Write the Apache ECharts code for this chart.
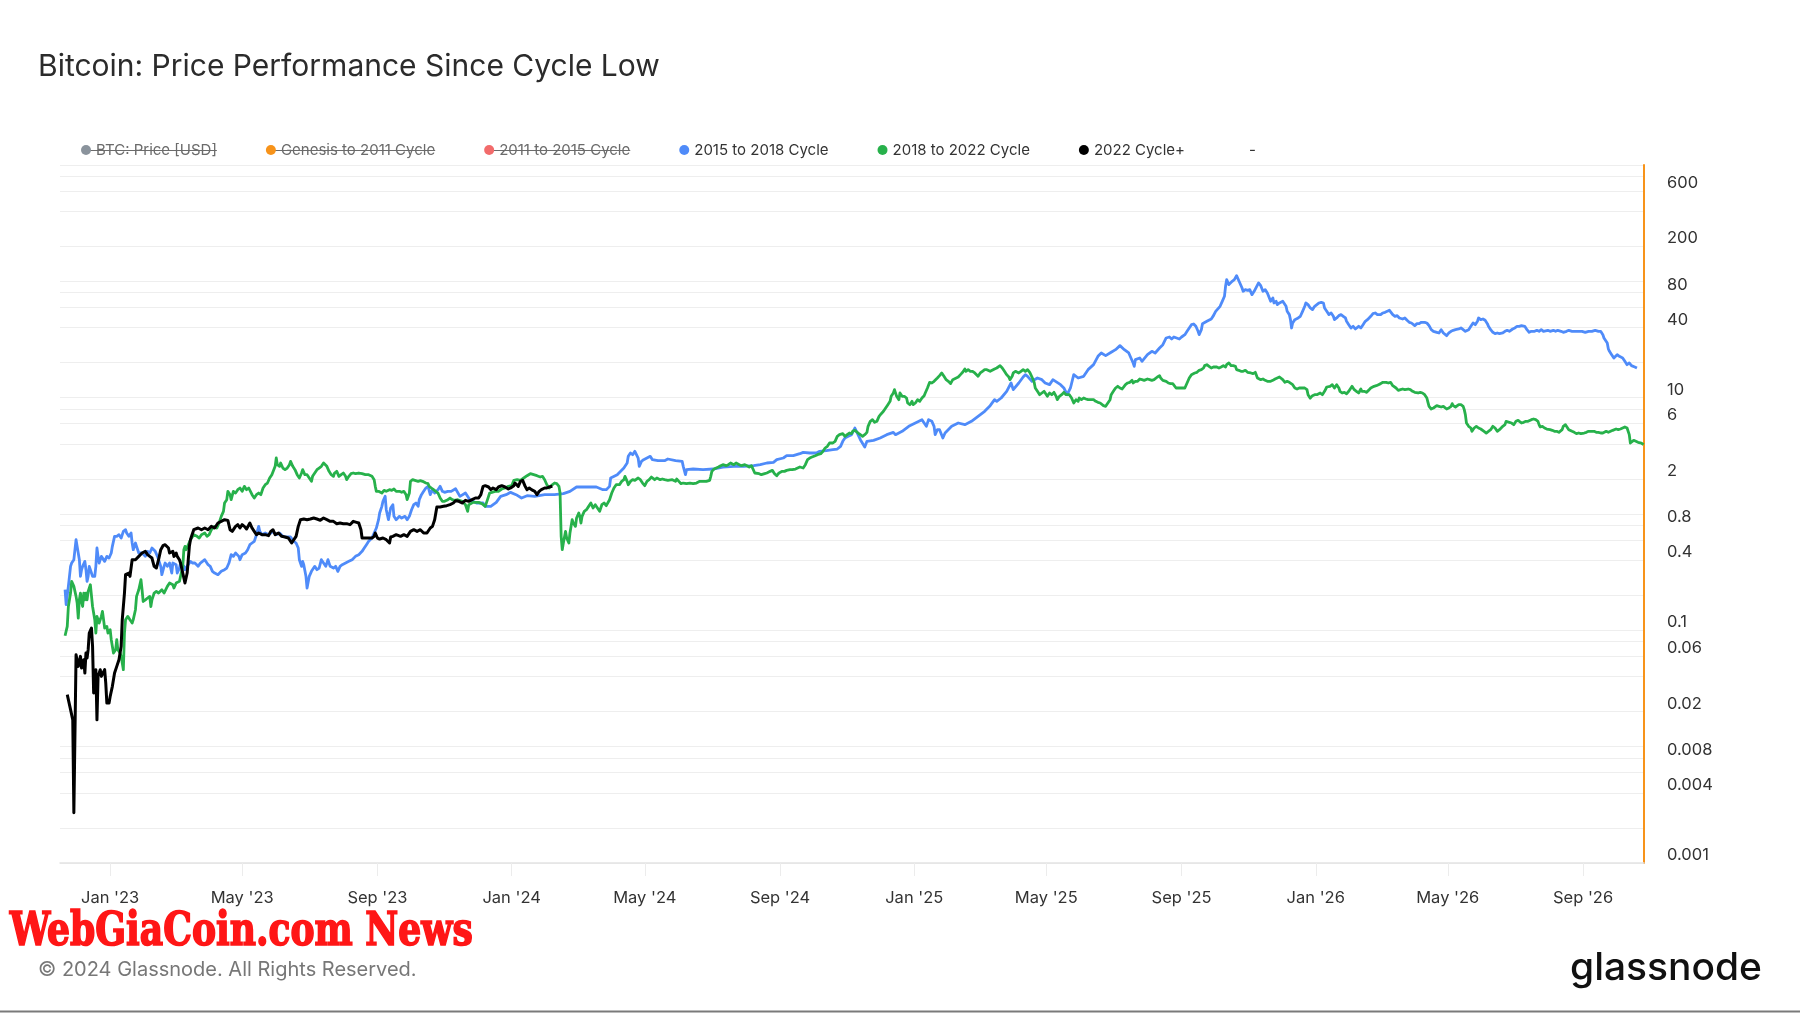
<!DOCTYPE html>
<html><head><meta charset="utf-8">
<script src="https://cdn.jsdelivr.net/npm/echarts@6/dist/echarts.min.js"></script>
<style>html,body{margin:0;padding:0;background:#fff}#c{width:1800px;height:1013px}</style>
</head><body><div id="c"></div>
<script>
// ---- data: [days since cycle low, price performance] ----
const cycleLow = '2022-11-21';
const legendNames = ['BTC: Price [USD]', 'Genesis to 2011 Cycle', '2011 to 2015 Cycle', '2015 to 2018 Cycle', '2018 to 2022 Cycle', '2022 Cycle+', '-'];
const xTickDates = ['2023-01-01','2023-05-01','2023-09-01','2024-01-01','2024-05-01','2024-09-01','2025-01-01','2025-05-01','2025-09-01','2026-01-01','2026-05-01','2026-09-01'];
const xTickLabels = ["Jan '23","May '23","Sep '23","Jan '24","May '24","Sep '24","Jan '25","May '25","Sep '25","Jan '26","May '26","Sep '26"];
const yLabelValues = [0.001,0.004,0.008,0.02,0.06,0.1,0.4,0.8,2,6,10,40,80,200,600];
const yGridValues = [0.001,0.002,0.004,0.006,0.008,0.01,0.02,0.04,0.06,0.08,0.1,0.2,0.4,0.6,0.8,1,2,4,6,8,10,20,40,60,80,100,200,400,600,800,1000];

const cycle2022 = [[2,0.028],[5,0.0208],[7,0.017],[8,0.0027],[10,0.0617],[12,0.049],[14,0.0597],[15,0.0474],[17,0.0559],[18,0.0429],[19,0.0638],[20,0.0578],[21,0.0682],[22,0.0948],[24,0.1046],[25,0.0728],[26,0.0289],[27,0.0402],[28,0.0459],[29,0.017],[30,0.0402],[32,0.0459],[33,0.0402],[36,0.0459],[37,0.0352],[38,0.0237],[40,0.0237],[41,0.027],[43,0.033],[45,0.0429],[47,0.049],[49,0.0559],[51,0.0728],[52,0.1235],[54,0.2092],[55,0.3008],[58,0.3109],[59,0.2911],[61,0.4047],[64,0.4047],[67,0.4324],[70,0.462],[73,0.4774],[75,0.447],[77,0.4324],[79,0.4184],[81,0.3548],[83,0.3433],[85,0.4047],[87,0.4934],[89,0.534],[91,0.5447],[94,0.51],[95,0.462],[98,0.4774],[99,0.4324],[101,0.462],[102,0.4324],[104,0.4047],[105,0.379],[106,0.379],[108,0.2816],[109,0.2551],[110,0.2551],[111,0.3109],[113,0.5271],[114,0.6014],[115,0.6427],[117,0.7327],[118,0.7576],[121,0.7576],[124,0.7327],[127,0.7576],[130,0.7327],[133,0.7831],[136,0.7576],[139,0.8366],[142,0.8646],[145,0.8938],[148,0.8819],[150,0.7327],[152,0.7089],[155,0.7831],[157,0.8094],[159,0.7576],[161,0.8094],[163,0.7831],[165,0.743],[168,0.8366],[170,0.7576],[172,0.7089],[174,0.664],[176,0.6863],[179,0.664],[182,0.664],[185,0.651],[187,0.7089],[189,0.7327],[191,0.664],[194,0.6863],[197,0.6427],[200,0.6341],[203,0.6217],[206,0.5632],[208,0.6014],[210,0.6427],[212,0.7831],[214,0.8938],[217,0.9056],[220,0.8938],[223,0.9056],[226,0.9236],[229,0.9056],[232,0.8819],[235,0.9236],[238,0.8938],[241,0.8646],[244,0.8646],[247,0.8256],[250,0.8366],[253,0.8256],[256,0.8256],[259,0.8094],[262,0.8646],[265,0.8476],[267,0.8366],[269,0.7327],[270,0.6217],[273,0.6217],[276,0.6217],[279,0.6217],[281,0.6427],[282,0.6863],[284,0.6217],[286,0.6095],[289,0.6217],[292,0.6014],[295,0.5632],[296,0.6341],[298,0.6427],[301,0.664],[305,0.6427],[308,0.664],[311,0.6427],[314,0.7089],[317,0.7327],[320,0.7089],[323,0.7327],[326,0.6863],[327,0.664],[329,0.6863],[332,0.7576],[334,0.7831],[336,0.8938],[338,1.148],[341,1.148],[344,1.164],[347,1.179],[350,1.203],[353,1.243],[355,1.3],[358,1.285],[361,1.243],[364,1.31],[367,1.285],[370,1.327],[373,1.372],[376,1.372],[378,1.466],[380,1.729],[382,1.752],[385,1.706],[387,1.619],[389,1.673],[392,1.619],[394,1.706],[397,1.752],[400,1.706],[403,1.64],[405,1.673],[408,1.752],[409,1.846],[412,1.729],[414,1.908],[416,1.946],[418,1.752],[420,1.619],[422,1.673],[424,1.619],[427,1.565],[429,1.466],[431,1.565],[433,1.619],[436,1.673],[438,1.673],[440,1.706],[443,1.729]];

const cycle2015 = [[0,0.2236],[1,0.1661],[3,0.2388],[5,0.3548],[6,0.379],[8,0.4047],[9,0.4934],[10,0.6014],[11,0.5271],[13,0.4047],[14,0.2911],[15,0.3321],[16,0.3548],[18,0.3916],[19,0.3321],[20,0.2636],[21,0.2911],[22,0.3548],[24,0.3109],[25,0.2911],[27,0.2911],[28,0.3548],[29,0.51],[30,0.4324],[31,0.379],[33,0.4324],[36,0.3916],[38,0.4324],[40,0.4184],[42,0.462],[43,0.5271],[45,0.6427],[47,0.6427],[49,0.664],[51,0.6217],[53,0.7089],[55,0.7327],[56,0.6863],[58,0.6427],[60,0.6863],[61,0.5632],[62,0.4934],[64,0.5632],[65,0.5271],[67,0.462],[68,0.4774],[70,0.462],[73,0.4324],[75,0.4774],[77,0.462],[79,0.51],[80,0.5271],[82,0.4774],[84,0.4324],[85,0.4047],[87,0.3548],[88,0.3008],[90,0.3548],[91,0.379],[93,0.3548],[95,0.379],[97,0.3109],[98,0.379],[101,0.3666],[102,0.3109],[104,0.3433],[105,0.379],[108,0.3548],[109,0.3321],[111,0.3548],[114,0.3916],[116,0.379],[118,0.379],[121,0.3548],[123,0.379],[125,0.3916],[127,0.4047],[130,0.3666],[132,0.3548],[134,0.3214],[136,0.3109],[139,0.3008],[142,0.3214],[145,0.3321],[147,0.3433],[149,0.379],[151,0.447],[153,0.4324],[155,0.462],[158,0.4324],[159,0.4047],[161,0.447],[164,0.462],[166,0.4934],[168,0.5447],[170,0.5632],[172,0.5821],[174,0.664],[176,0.7831],[177,0.7089],[179,0.664],[182,0.6863],[185,0.664],[187,0.6863],[189,0.7089],[192,0.664],[195,0.6863],[198,0.6427],[201,0.6341],[205,0.6341],[208,0.5821],[210,0.5632],[212,0.51],[213,0.4047],[215,0.3548],[216,0.3916],[217,0.3666],[219,0.2911],[220,0.2311],[222,0.2911],[224,0.3214],[227,0.3548],[229,0.3321],[231,0.3433],[233,0.4047],[235,0.379],[237,0.3548],[239,0.4047],[241,0.3548],[244,0.3433],[246,0.3548],[248,0.3214],[250,0.3548],[252,0.3666],[255,0.379],[258,0.3916],[261,0.4047],[264,0.4324],[267,0.447],[270,0.4774],[272,0.51],[274,0.5447],[276,0.5821],[279,0.6217],[281,0.6863],[283,0.7576],[285,0.8938],[286,1.02],[288,1.164],[289,1.285],[291,1.419],[292,1.089],[294,0.8938],[296,1.126],[298,1.203],[299,0.9548],[301,0.8938],[304,0.9548],[306,0.9236],[309,0.9548],[311,0.8938],[313,0.9548],[315,1.089],[317,1.203],[319,1.243],[321,1.164],[322,1.328],[324,1.466],[326,1.566],[328,1.673],[330,1.729],[332,1.466],[334,1.619],[336,1.515],[339,1.619],[341,1.729],[343,1.566],[345,1.535],[348,1.566],[351,1.566],[355,1.65],[359,1.418],[364,1.515],[368,1.327],[374,1.243],[380,1.243],[382,1.163],[387,1.163],[392,1.259],[396,1.418],[401,1.466],[405,1.535],[410,1.466],[415,1.372],[420,1.437],[427,1.418],[436,1.466],[445,1.466],[453,1.495],[459,1.565],[465,1.706],[471,1.706],[477,1.706],[483,1.706],[489,1.618],[492,1.618],[495,1.728],[496,2.039],[502,2.178],[508,2.485],[511,2.744],[512,3.13],[514,3.344],[516,3.235],[518,3.456],[519,3.572],[521,3.029],[522,2.568],[524,2.836],[526,2.931],[532,3.13],[534,2.931],[539,2.873],[545,2.873],[548,2.97],[555,2.873],[561,2.836],[562,2.568],[564,2.178],[565,2.404],[571,2.436],[580,2.404],[589,2.436],[598,2.534],[608,2.568],[617,2.568],[626,2.602],[632,2.654],[638,2.744],[644,2.78],[647,2.931],[653,3.029],[656,3.17],[662,3.17],[668,3.3],[671,3.388],[677,3.344],[683,3.344],[686,3.456],[692,3.502],[698,3.572],[702,3.619],[705,3.816],[707,4.213],[709,4.5],[712,4.651],[715,4.807],[718,5.486],[723,4.354],[727,3.765],[729,4.212],[735,4.297],[741,4.5],[747,4.807],[753,5.034],[755,4.807],[761,5.135],[767,5.669],[773,6.055],[779,6.469],[781,6.055],[783,5.669],[785,6.469],[788,6.259],[790,5.669],[791,4.807],[793,5.308],[795,5.308],[798,4.5],[800,4.968],[806,5.669],[812,6.055],[818,5.859],[824,6.259],[830,6.911],[836,7.63],[841,8.535],[845,9.612],[847,9.301],[851,9.934],[856,11.34],[860,13.37],[862,11.72],[867,13.37],[871,15.06],[873,15.77],[875,15.26],[879,13.82],[884,14.76],[888,14.28],[891,13.37],[895,12.94],[898,14.28],[905,12.94],[908,12.11],[911,10.61],[914,12.11],[917,15.77],[921,14.76],[926,15.26],[930,17.41],[935,19.22],[939,22.67],[942,24.22],[946,22.97],[951,24.54],[955,25.86],[959,28.0],[963,25.86],[967,24.22],[971,19.87],[972,18.6],[973,21.22],[977,21.94],[979,20.53],[984,23.43],[988,25.02],[991,24.22],[995,26.74],[998,28.56],[1001,32.58],[1004,33.23],[1006,31.94],[1008,33.23],[1013,31.94],[1015,33.23],[1018,34.81],[1020,37.19],[1022,39.72],[1024,42.43],[1026,42.99],[1028,41.06],[1030,37.19],[1031,34.81],[1033,38.43],[1034,43.28],[1038,45.33],[1042,47.47],[1044,50.71],[1046,55.24],[1050,61.0],[1052,67.34],[1054,74.35],[1055,90.64],[1056,103.4],[1058,93.67],[1059,95.55],[1061,100.1],[1063,103.4],[1065,111.9],[1066,109.0],[1068,96.83],[1070,87.7],[1071,82.11],[1073,84.86],[1075,83.75],[1077,84.86],[1079,76.85],[1081,82.11],[1082,84.86],[1085,96.83],[1086,100.1],[1087,91.83],[1089,82.11],[1091,84.86],[1093,79.43],[1094,76.85],[1096,67.34],[1098,71.94],[1099,65.16],[1101,67.34],[1102,63.05],[1104,65.16],[1107,67.34],[1108,65.16],[1110,61.0],[1111,55.24],[1113,51.73],[1114,46.85],[1115,39.72],[1116,43.85],[1118,46.85],[1119,45.33],[1121,48.42],[1123,50.05],[1125,55.24],[1127,61.0],[1128,65.16],[1130,63.05],[1132,59.02],[1134,57.11],[1136,61.0],[1138,63.05],[1140,65.16],[1142,66.02],[1144,65.16],[1145,59.02],[1147,55.24],[1149,51.73],[1151,53.46],[1153,50.05],[1154,46.85],[1156,48.42],[1158,50.71],[1160,51.73],[1162,50.05],[1164,48.42],[1165,45.33],[1167,42.43],[1169,39.72],[1171,41.06],[1173,38.94],[1174,38.43],[1176,41.06],[1178,39.72],[1180,42.43],[1182,45.33],[1184,46.85],[1185,47.47],[1187,50.05],[1189,52.76],[1191,53.46],[1193,51.73],[1194,53.46],[1196,51.73],[1198,53.46],[1200,54.18],[1202,55.24],[1204,56.36],[1205,54.18],[1207,51.73],[1209,50.05],[1211,50.71],[1213,48.42],[1214,49.39],[1216,47.47],[1218,48.42],[1220,46.24],[1222,44.44],[1224,43.85],[1225,42.43],[1227,41.61],[1229,43.28],[1231,43.28],[1233,44.44],[1236,44.44],[1238,43.85],[1240,41.61],[1242,38.43],[1244,37.19],[1245,37.93],[1247,36.46],[1249,35.98],[1251,38.43],[1253,35.98],[1254,34.81],[1256,34.13],[1258,35.98],[1260,37.19],[1262,37.93],[1264,38.43],[1265,37.93],[1267,38.94],[1269,39.72],[1271,38.43],[1273,37.19],[1274,36.46],[1276,38.43],[1278,41.06],[1280,43.85],[1282,42.43],[1284,45.33],[1285,48.42],[1287,46.85],[1289,47.47],[1291,46.24],[1293,43.28],[1294,41.06],[1296,38.43],[1298,36.46],[1300,35.5],[1302,35.98],[1304,35.5],[1305,36.46],[1307,35.98],[1309,37.19],[1311,37.93],[1313,37.19],[1314,38.43],[1316,38.94],[1318,39.72],[1320,41.06],[1322,41.06],[1324,41.61],[1325,42.43],[1327,41.06],[1329,38.43],[1331,36.46],[1333,37.19],[1334,37.93],[1336,37.19],[1338,37.93],[1340,37.19],[1342,38.43],[1344,37.19],[1345,38.43],[1348,37.93],[1350,37.19],[1353,37.93],[1355,37.19],[1357,37.93],[1360,37.19],[1362,36.46],[1365,37.19],[1367,37.93],[1370,37.19],[1373,37.19],[1376,37.19],[1379,37.19],[1382,36.46],[1385,37.19],[1388,37.19],[1391,37.93],[1394,37.19],[1396,37.19],[1398,34.81],[1399,32.58],[1400,31.94],[1402,29.51],[1403,26.21],[1404,25.02],[1406,23.43],[1408,21.94],[1409,22.67],[1411,23.43],[1413,22.67],[1414,23.43],[1416,21.94],[1418,20.53],[1420,19.22],[1422,19.87],[1424,18.85],[1425,19.22],[1427,18.35],[1429,17.99]];

const cycle2018 = [[0,0.0899],[2,0.1081],[3,0.1603],[4,0.1829],[5,0.2092],[6,0.2636],[7,0.2724],[8,0.2388],[10,0.1959],[11,0.1716],[12,0.1275],[13,0.1829],[14,0.2092],[15,0.177],[16,0.1603],[17,0.2092],[18,0.1829],[19,0.2092],[20,0.1829],[21,0.2162],[22,0.2092],[23,0.2467],[24,0.2388],[25,0.1603],[27,0.1235],[28,0.0948],[29,0.1318],[30,0.1235],[31,0.1155],[33,0.1318],[34,0.1455],[35,0.1235],[36,0.1046],[38,0.1081],[39,0.0948],[41,0.1012],[42,0.083],[44,0.0638],[45,0.0617],[46,0.0682],[47,0.083],[48,0.0682],[50,0.0638],[51,0.0597],[52,0.0523],[53,0.0459],[54,0.0948],[55,0.1235],[57,0.1318],[59,0.1235],[61,0.1155],[62,0.1235],[64,0.1504],[65,0.1959],[67,0.2234],[68,0.231],[69,0.2724],[70,0.2234],[71,0.177],[73,0.1829],[75,0.1895],[77,0.1959],[78,0.1603],[79,0.1829],[81,0.2092],[83,0.2162],[85,0.2092],[88,0.2234],[90,0.2092],[93,0.2388],[95,0.2551],[98,0.2467],[99,0.231],[101,0.2551],[104,0.2636],[105,0.2724],[107,0.3548],[108,0.4934],[109,0.5271],[110,0.4934],[112,0.5447],[114,0.6014],[115,0.5821],[117,0.664],[118,0.6863],[120,0.6427],[122,0.6217],[124,0.664],[127,0.6863],[129,0.6427],[131,0.664],[133,0.7327],[136,0.7831],[138,0.7576],[140,0.8366],[142,0.9548],[144,1.054],[145,1.243],[147,1.328],[148,1.566],[150,1.466],[151,1.328],[153,1.566],[155,1.515],[157,1.619],[159,1.673],[161,1.566],[163,1.729],[165,1.619],[167,1.673],[168,1.729],[170,1.466],[172,1.372],[174,1.466],[176,1.515],[178,1.466],[180,1.673],[182,1.787],[184,1.846],[186,2.039],[188,2.178],[189,2.251],[191,2.569],[192,3.03],[193,2.655],[195,2.569],[196,2.745],[198,2.485],[200,2.405],[202,2.485],[204,2.655],[205,2.836],[207,2.569],[209,2.405],[211,2.178],[213,2.039],[215,2.251],[216,2.405],[218,2.178],[220,2.178],[222,2.039],[224,1.909],[225,2.107],[227,2.251],[229,2.405],[231,2.485],[233,2.569],[235,2.745],[236,2.655],[238,2.569],[240,2.326],[242,2.178],[244,2.107],[245,2.251],[247,2.326],[249,2.107],[251,2.178],[253,2.251],[255,2.107],[256,1.973],[258,2.107],[260,2.222],[262,2.251],[264,2.222],[265,2.178],[267,2.251],[270,2.222],[273,2.178],[276,2.178],[279,2.107],[281,1.973],[282,1.729],[283,1.566],[285,1.566],[288,1.515],[290,1.597],[292,1.566],[295,1.619],[297,1.597],[299,1.64],[301,1.566],[304,1.566],[306,1.535],[308,1.566],[310,1.466],[311,1.328],[313,1.515],[314,1.909],[316,1.973],[318,1.947],[321,1.909],[323,1.934],[325,1.909],[328,1.846],[330,1.823],[331,1.729],[333,1.673],[335,1.619],[337,1.566],[339,1.515],[341,1.372],[343,1.285],[345,1.285],[348,1.328],[350,1.372],[352,1.328],[354,1.31],[357,1.327],[361,1.285],[364,1.202],[366,1.054],[367,1.202],[371,1.259],[376,1.259],[379,1.226],[382,1.163],[383,1.202],[385,1.418],[386,1.515],[388,1.535],[391,1.565],[394,1.565],[397,1.64],[400,1.673],[403,1.728],[406,1.752],[408,1.946],[411,1.972],[414,1.946],[417,2.039],[420,2.134],[423,2.221],[426,2.178],[429,2.134],[432,2.079],[434,2.107],[436,1.972],[438,1.786],[440,1.673],[442,1.752],[445,1.846],[447,1.822],[449,1.728],[450,1.515],[451,0.6422],[452,0.4933],[453,0.5629],[455,0.7089],[456,0.6215],[458,0.5629],[459,0.6862],[461,0.8934],[462,0.8363],[464,0.7829],[465,0.9232],[467,1.019],[468,0.9541],[469,0.8363],[470,0.9541],[472,1.054],[474,1.089],[476,1.163],[478,1.243],[480,1.126],[482,1.202],[484,1.126],[486,1.054],[488,1.202],[490,1.243],[492,1.179],[493,1.163],[495,1.327],[497,1.515],[499,1.673],[501,1.786],[502,1.846],[504,1.786],[506,1.908],[508,1.972],[509,2.107],[511,1.908],[512,1.786],[514,1.908],[516,1.972],[518,1.946],[521,2.039],[523,1.972],[525,1.846],[527,1.752],[529,1.908],[531,1.972],[533,2.079],[536,1.972],[538,2.039],[541,1.972],[543,1.999],[545,1.972],[548,1.946],[552,1.972],[555,1.908],[556,1.999],[558,1.908],[560,1.822],[562,1.846],[565,1.822],[568,1.846],[571,1.822],[574,1.846],[577,1.908],[580,1.908],[583,1.908],[586,1.946],[587,2.107],[588,2.326],[590,2.436],[592,2.485],[594,2.534],[596,2.602],[598,2.654],[601,2.602],[603,2.654],[605,2.744],[608,2.654],[610,2.744],[613,2.654],[615,2.602],[618,2.654],[620,2.602],[622,2.534],[624,2.602],[625,2.568],[627,2.251],[628,2.178],[631,2.221],[633,2.178],[636,2.221],[638,2.251],[641,2.326],[643,2.372],[645,2.221],[647,2.134],[649,2.251],[652,2.326],[654,2.326],[656,2.372],[659,2.404],[661,2.404],[664,2.436],[666,2.485],[668,2.534],[671,2.485],[673,2.654],[675,2.931],[677,3.029],[679,3.089],[682,3.171],[684,3.235],[687,3.3],[689,3.456],[691,3.692],[693,3.816],[695,4.076],[698,4.076],[700,4.213],[702,4.651],[704,4.807],[705,4.968],[707,4.903],[709,4.651],[711,4.807],[713,4.968],[715,4.903],[716,5.135],[718,5.238],[721,4.968],[723,4.807],[725,4.651],[727,4.807],[729,5.034],[730,5.669],[732,6.259],[734,6.469],[736,6.136],[738,6.259],[740,6.911],[742,7.285],[744,7.63],[746,8.15],[748,8.706],[750,9.301],[751,10.27],[753,10.97],[754,11.72],[755,11.34],[756,10.27],[758,9.612],[759,10.97],[761,10.27],[763,10.27],[765,9.934],[766,8.999],[768,8.706],[770,9.301],[771,8.706],[773,8.999],[775,9.612],[777,9.301],[779,9.934],[781,10.4],[782,10.97],[784,12.11],[786,13.55],[788,13.37],[790,13.82],[791,14.28],[793,14.76],[795,15.46],[797,16.3],[798,16.84],[799,15.26],[801,14.28],[803,13.82],[805,13.2],[807,14.28],[808,14.76],[812,15.06],[814,15.77],[816,16.51],[818,17.64],[819,16.84],[821,17.41],[823,16.84],[825,16.84],[827,16.3],[828,15.77],[830,15.26],[832,16.3],[834,16.84],[836,17.41],[838,17.41],[841,16.84],[842,17.41],[845,17.64],[847,17.99],[848,18.6],[850,18.85],[852,17.99],[854,16.84],[856,15.77],[858,15.06],[859,14.28],[861,15.26],[862,16.3],[864,16.84],[867,16.3],[869,16.84],[871,17.41],[873,16.84],[875,17.41],[877,16.51],[879,15.06],[881,13.55],[882,12.11],[884,11.34],[886,10.61],[888,10.97],[890,11.34],[891,10.97],[893,10.27],[895,10.97],[897,10.61],[899,11.11],[901,10.27],[902,9.612],[904,10.27],[906,10.61],[908,11.11],[910,10.61],[911,10.97],[913,10.61],[915,9.934],[917,8.999],[919,9.612],[921,9.301],[922,9.934],[924,9.612],[926,9.934],[928,9.741],[930,9.612],[931,9.301],[933,9.612],[935,9.612],[937,9.301],[939,9.119],[941,8.999],[942,8.88],[944,8.535],[946,8.424],[948,8.999],[950,9.612],[951,10.61],[953,11.34],[955,12.11],[957,12.52],[959,12.11],[961,11.87],[962,12.11],[964,12.94],[966,13.37],[968,13.55],[970,14.09],[971,13.37],[973,13.82],[975,13.82],[977,14.47],[979,14.28],[981,14.09],[982,14.28],[984,14.47],[986,14.28],[988,14.09],[990,14.28],[991,14.76],[993,15.06],[995,15.46],[996,14.76],[998,14.09],[999,14.28],[1001,13.82],[1003,13.37],[1005,13.2],[1007,13.2],[1008,12.94],[1010,12.11],[1011,11.72],[1013,12.11],[1015,12.11],[1016,12.35],[1018,12.11],[1020,13.37],[1022,14.76],[1024,15.77],[1025,16.08],[1027,16.3],[1029,16.51],[1031,17.18],[1033,17.41],[1035,17.99],[1036,18.85],[1038,19.22],[1040,18.6],[1042,17.99],[1044,18.35],[1045,17.99],[1047,18.35],[1049,17.99],[1051,18.35],[1053,18.85],[1055,18.35],[1056,19.22],[1058,19.87],[1060,18.85],[1062,18.85],[1064,18.6],[1065,17.41],[1067,17.18],[1069,16.84],[1071,16.84],[1073,17.18],[1075,16.51],[1076,16.84],[1078,16.3],[1080,16.08],[1082,16.51],[1084,14.76],[1085,14.76],[1087,14.28],[1089,14.47],[1091,14.09],[1093,13.82],[1094,13.55],[1096,13.82],[1098,14.09],[1100,14.47],[1102,14.76],[1104,15.06],[1105,14.76],[1107,14.28],[1109,13.55],[1111,13.82],[1113,13.55],[1114,13.37],[1116,12.94],[1118,12.11],[1120,11.87],[1122,12.11],[1124,12.11],[1125,12.35],[1127,12.11],[1129,11.72],[1130,10.61],[1132,9.902],[1134,10.4],[1136,10.61],[1138,10.61],[1139,10.82],[1141,10.97],[1143,10.61],[1145,11.34],[1147,12.35],[1148,12.68],[1150,12.52],[1152,12.94],[1154,12.11],[1156,12.94],[1158,12.11],[1159,11.34],[1161,10.97],[1163,11.11],[1165,10.82],[1167,11.34],[1168,11.34],[1170,12.52],[1171,12.68],[1172,11.72],[1174,11.34],[1176,10.97],[1178,11.87],[1179,11.34],[1181,11.34],[1183,11.11],[1185,11.56],[1187,12.11],[1188,12.35],[1190,12.52],[1192,12.68],[1194,12.94],[1196,13.2],[1198,13.55],[1199,13.82],[1201,13.55],[1203,13.37],[1205,13.55],[1207,12.68],[1208,12.35],[1210,12.11],[1212,11.56],[1214,11.72],[1216,11.87],[1218,11.72],[1219,12.11],[1221,11.87],[1223,11.72],[1225,11.34],[1227,11.11],[1228,11.11],[1230,10.97],[1232,11.11],[1234,10.97],[1236,10.61],[1238,9.934],[1239,9.119],[1240,8.424],[1242,7.989],[1244,8.15],[1245,8.424],[1247,8.535],[1249,8.424],[1251,8.313],[1253,8.424],[1254,8.15],[1256,7.989],[1258,8.15],[1260,8.424],[1261,8.88],[1262,8.535],[1264,8.313],[1265,8.424],[1267,8.706],[1269,8.706],[1271,8.424],[1272,7.885],[1273,7.142],[1274,6.055],[1276,5.669],[1278,5.486],[1279,5.135],[1281,5.486],[1283,5.669],[1285,5.486],[1287,5.378],[1288,5.308],[1290,5.135],[1292,4.968],[1294,5.135],[1296,5.308],[1298,5.669],[1299,5.743],[1300,5.486],[1302,5.135],[1304,5.308],[1305,5.486],[1307,5.669],[1309,5.859],[1310,6.259],[1311,6.055],[1313,6.136],[1315,6.055],[1317,5.859],[1319,6.259],[1321,6.384],[1322,6.259],[1324,6.055],[1326,6.136],[1328,6.259],[1330,6.259],[1331,6.384],[1333,6.469],[1335,6.555],[1337,6.469],[1339,6.259],[1340,5.859],[1341,5.594],[1343,5.669],[1345,5.486],[1347,5.378],[1348,5.238],[1350,5.308],[1352,5.238],[1354,5.135],[1356,5.135],[1358,5.034],[1359,4.968],[1361,5.308],[1362,5.669],[1364,5.859],[1365,5.669],[1367,5.308],[1368,5.135],[1370,5.135],[1372,5.034],[1374,4.903],[1376,4.968],[1378,4.903],[1379,5.034],[1381,4.968],[1383,5.034],[1385,5.135],[1387,5.135],[1388,5.238],[1390,5.135],[1392,5.034],[1394,5.034],[1396,4.968],[1398,4.968],[1399,5.034],[1401,5.135],[1403,5.034],[1405,5.135],[1407,5.238],[1408,5.308],[1410,5.378],[1412,5.308],[1414,5.378],[1416,5.486],[1418,5.594],[1419,5.669],[1420,5.486],[1422,4.807],[1423,4.076],[1424,4.212],[1426,4.297],[1428,4.212],[1430,4.13],[1431,4.212],[1433,4.076],[1435,3.944]];

// ---- build ----
const DAY = 86400000;
const lowTs = Date.parse(cycleLow + 'T00:00:00Z');
const toPoints = arr => arr.map(p => [lowTs + p[0] * DAY, p[1]]);
const xTickTs = xTickDates.map(d => Date.parse(d + 'T00:00:00Z'));

const FONT = 'Inter';
const chart = echarts.init(document.getElementById('c'), null, {renderer: 'canvas'});

const measure = (txt, font) => {
  const ctx = document.createElement('canvas').getContext('2d');
  ctx.font = font;
  return ctx.measureText(txt).width;
};

// legend layout (for strike-through of hidden cycles)
const LEG_LEFT = 81, LEG_TOP = 142.5, LEG_ICON = 10, LEG_GAP = 49, LEG_FS = 15;
const strikeLines = [];
let lx = LEG_LEFT;
legendNames.forEach((n, i) => {
  const tx = lx + LEG_ICON + 5;
  const w = measure(n, LEG_FS + 'px ' + FONT);
  if (i < 3) strikeLines.push({type: 'line', shape: {x1: tx - 14, y1: LEG_TOP + 8, x2: tx + w, y2: LEG_TOP + 8}, style: {stroke: '#6b6b6b', lineWidth: 1.2}, silent: true});
  lx = tx + w + LEG_GAP;
});

const wmText = 'WebGiaCoin.com News';
const wmFont = 'bold 46px "DejaVu Serif Condensed", "DejaVu Serif"';
const wmScale = 463 / measure(wmText, wmFont);
const gnFont = '500 38px ' + FONT;
const gnScale = 192 / measure('glassnode', gnFont);

const seriesColors = ['#8a939c', '#f7931a', '#f26b6b', '#4f8bf9', '#27b14b', '#000000', 'rgba(0,0,0,0)'];
const seriesWidths = [2, 2, 2, 2.8, 2.8, 3, 1];
const seriesData = [[], [], [], toPoints(cycle2015), toPoints(cycle2018), toPoints(cycle2022), []];

const nearestLabel = v => { let bi = 0, bd = Infinity; xTickTs.forEach((t, i) => { const d = Math.abs(t - v); if (d < bd) { bd = d; bi = i; } }); return xTickLabels[bi]; };
const nearestY = v => { let best = yLabelValues[0]; yLabelValues.forEach(b => { if (Math.abs(Math.log10(b) - Math.log10(v)) < Math.abs(Math.log10(best) - Math.log10(v))) best = b; }); return String(best); };

const option = {
  animation: false,
  backgroundColor: '#ffffff',
  title: {
    text: 'Bitcoin: Price Performance Since Cycle Low',
    left: 38, top: 51.5, padding: 0,
    textStyle: {fontFamily: FONT, fontSize: 30, fontWeight: 'normal', color: '#2b2b2b'}
  },
  legend: {
    left: LEG_LEFT, top: LEG_TOP, padding: 0,
    itemWidth: LEG_ICON, itemHeight: LEG_ICON, itemGap: LEG_GAP, icon: 'circle',
    selectedMode: false,
    textStyle: {fontFamily: FONT, fontSize: LEG_FS, color: '#333333'},
    data: legendNames.map((n, i) => ({name: n, textStyle: {color: i < 3 ? '#6b6b6b' : '#333333'}}))
  },
  grid: {left: 60, right: 156, top: 165, bottom: 150, containLabel: false},
  xAxis: {
    type: 'value',
    min: lowTs - 4.6 * DAY,
    max: lowTs + 1435.4 * DAY,
    axisLine: {show: true, lineStyle: {color: '#e3e3e3', width: 1.5}},
    axisTick: {show: true, length: 13, lineStyle: {color: '#ececec', width: 1}, customValues: xTickTs},
    axisLabel: {customValues: xTickTs, margin: 27, fontFamily: FONT, fontSize: 16.5, color: '#333333', formatter: nearestLabel},
    splitLine: {show: false}
  },
  yAxis: {
    type: 'log', logBase: 10, min: 0.001, max: 1000, position: 'right',
    axisLine: {show: true, onZero: false, lineStyle: {color: '#f7931a', width: 2}},
    axisTick: {show: false, customValues: yGridValues},
    splitLine: {show: true, lineStyle: {color: '#eeeeee', width: 1}},
    axisLabel: {
      customValues: yLabelValues, margin: 23, fontFamily: FONT, fontSize: 16.5, color: '#333333',
      verticalAlign: 'bottom', lineHeight: 16, padding: [0, 0, 0, 0], formatter: nearestY
    }
  },
  series: legendNames.map((n, i) => ({
    name: n, type: 'line', data: seriesData[i], showSymbol: false, symbol: 'none',
    color: seriesColors[i],
    lineStyle: {width: seriesWidths[i], color: seriesColors[i], join: 'round'},
    z: 2 + i, silent: true
  })),
  graphic: [
    ...strikeLines,
    {type: 'text', left: 9, top: 909, silent: true, scaleX: wmScale, originX: 0,
     style: {text: wmText, font: wmFont, fill: '#ff1616', stroke: '#ff1616', lineWidth: 1.6}},
    {type: 'text', left: 38, top: 960, silent: true,
     style: {text: '© 2024 Glassnode. All Rights Reserved.', font: '20px ' + FONT, fill: '#777777'}},
    {type: 'text', left: 1570, top: 950, silent: true, scaleX: gnScale, originX: 0,
     style: {text: 'glassnode', font: gnFont, fill: '#111111'}},
    {type: 'line', shape: {x1: 0, y1: 1011.5, x2: 1800, y2: 1011.5}, style: {stroke: '#7a7a7a', lineWidth: 2}, silent: true}
  ]
};
chart.setOption(option);
</script>
</body></html>
